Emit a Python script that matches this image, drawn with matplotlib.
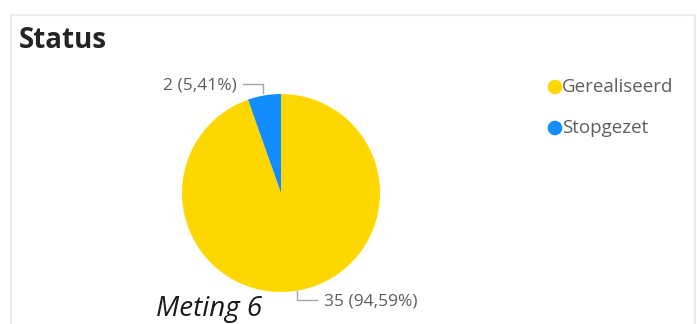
import matplotlib.pyplot as plt
from matplotlib.patches import Rectangle

# Status counts
categories = ["Gerealiseerd", "Stopgezet"]
counts = [35, 2]
colors = ["#FFD700", "#118DFF"]
title = "Status"
caption = "Meting 6"

W, H = 697, 324
fig = plt.figure(figsize=(W / 100, H / 100), dpi=100)
ax = fig.add_axes([0, 0, 1, 1])

font = ["Open Sans", "DejaVu Sans"]
gray = "#605E5C"

# pie, clockwise from 12 o'clock
cx, cy, r = 281, H - 193, 99
wedges, _ = ax.pie(counts, colors=colors, startangle=90, counterclock=False,
                   center=(cx, cy), radius=r, frame=True)
ax.set_xlim(0, W)
ax.set_ylim(0, H)
ax.set_aspect("equal")
ax.axis("off")

# card border
ax.add_patch(Rectangle((10.5, -5), 684, H - 14.5 + 5, fill=False,
                       edgecolor="#EBEBEB", linewidth=1.5))

ax.text(19, H - 40, title, fontsize=20, fontweight="bold", family=font,
        color="#252423", va="center", ha="left")

total = sum(counts)
pct = [c / total * 100 for c in counts]
labels = [f"{c} ({p:.2f}%)".replace(".", ",") for c, p in zip(counts, pct)]

line_kw = dict(color="#A6A6A6", linewidth=1)
# Stopgezet label (top left)
ax.plot([243, 263, 263], [H - 84, H - 84, H - 93], **line_kw)
ax.text(237, H - 85, labels[1], fontsize=12.5, family=font, color=gray,
        ha="right", va="center")
# Gerealiseerd label (bottom)
ax.plot([297, 297, 317], [H - 291, H - 300, H - 300], **line_kw)
ax.text(324, H - 301, labels[0], fontsize=12.5, family=font, color=gray,
        ha="left", va="center")

ax.text(156, H - 309, caption, fontsize=20, style="italic", family=font,
        color="#1A1A1A", ha="left", va="center")

# legend
for i, (name, c) in enumerate(zip(categories, colors)):
    y = H - 87 - i * 41
    ax.scatter([555], [y], s=110, color=c, edgecolors="none")
    ax.text(562, y, name, fontsize=13.5, family=font, color=gray,
            ha="left", va="center")

plt.savefig("out.png", dpi=100)
